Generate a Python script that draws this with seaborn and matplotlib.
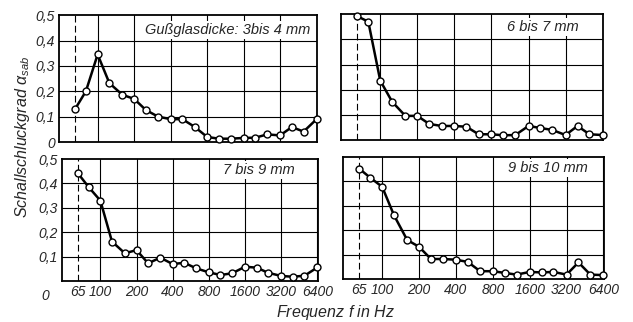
import matplotlib
matplotlib.use("Agg")
import matplotlib.pyplot as plt
import seaborn as sns
import pandas as pd

# ---- data ----
freqs = [65, 80, 100, 125, 160, 200, 250, 315, 400, 500, 630, 800, 1000,
         1250, 1600, 2000, 2500, 3200, 4000, 5000, 6400]
alpha_3_4 = [0.129, 0.200, 0.345, 0.232, 0.186, 0.170, 0.126, 0.100, 0.090, 0.090,
             0.060, 0.020, 0.013, 0.013, 0.016, 0.017, 0.030, 0.026, 0.059, 0.041, 0.090]
alpha_6_7 = [0.492, 0.470, 0.236, 0.152, 0.096, 0.096, 0.064, 0.056, 0.056, 0.053,
             0.023, 0.023, 0.019, 0.020, 0.056, 0.048, 0.040, 0.020, 0.056, 0.023, 0.020]
alpha_7_9 = [0.442, 0.385, 0.330, 0.162, 0.114, 0.127, 0.073, 0.096, 0.070, 0.075,
             0.052, 0.036, 0.025, 0.032, 0.059, 0.055, 0.034, 0.021, 0.018, 0.022, 0.056]
alpha_9_10 = [0.452, 0.415, 0.378, 0.261, 0.160, 0.132, 0.082, 0.082, 0.079, 0.070,
              0.032, 0.032, 0.025, 0.018, 0.029, 0.027, 0.029, 0.018, 0.068, 0.018, 0.016]
panel_titles = ["Gußglasdicke: 3bis 4 mm", "6 bis 7 mm", "7 bis 9 mm", "9 bis 10 mm"]
xtick_vals = [65, 100, 200, 400, 800, 1600, 3200, 6400]
xtick_labels = ["65", "100", "200", "400", "800", "1600", "3200", "6400"]
ytick_vals = [0.1, 0.2, 0.3, 0.4, 0.5]
ytick_labels = ["0,1", "0,2", "0,3", "0,4", "0,5"]
ylabel = r"Schallschluckgrad $\alpha_{sab}$"
xlabel = "Frequenz $f$ in Hz"

sns.set_style("white")
FONT = ["Liberation Sans", "DejaVu Sans"]
plt.rcParams["font.family"] = FONT
plt.rcParams["font.style"] = "italic"
plt.rcParams["mathtext.fontset"] = "custom"
plt.rcParams["mathtext.it"] = "Liberation Sans:italic"
plt.rcParams["mathtext.rm"] = "Liberation Sans:italic"

fig = plt.figure(figsize=(6.33, 3.22), dpi=100)
rects = [
    [0.0932, 0.559, 0.4076, 0.394],
    [0.5387, 0.565, 0.4140, 0.391],
    [0.0980, 0.127, 0.4040, 0.379],
    [0.5420, 0.1335, 0.4120, 0.379],
]
series = [alpha_3_4, alpha_6_7, alpha_7_9, alpha_9_10]
title_pos = [(0.973, 0.88), (0.905, 0.897), (0.91, 0.91), (0.94, 0.91)]

for i, (rect, vals) in enumerate(zip(rects, series)):
    ax = fig.add_axes(rect)
    ax.set_xscale("log")
    ax.set_xlim(48, 6450)
    ax.set_ylim(0, 0.5)
    for g in xtick_vals[1:]:
        ax.axvline(g, color="black", lw=0.8, zorder=1)
    for g in ytick_vals[:-1]:
        ax.axhline(g, color="black", lw=0.8, zorder=1)
    ax.axvline(65, color="black", lw=0.8, ls=(0, (6, 3)), zorder=1)
    df = pd.DataFrame({"f": freqs, "a": vals})
    sns.lineplot(data=df, x="f", y="a", ax=ax, color="black", lw=1.8,
                 marker="o", markersize=5, markerfacecolor="white",
                 markeredgecolor="black", markeredgewidth=1.0, zorder=5,
                 clip_on=False)
    tx, ty = title_pos[i]
    ax.text(tx, ty, panel_titles[i], transform=ax.transAxes, ha="right",
            va="center", fontsize=10.5, style="italic",
            bbox=dict(facecolor="white", edgecolor="none", pad=1.5), zorder=3)
    for sp in ax.spines.values():
        sp.set_visible(True)
        sp.set_color("black")
        sp.set_linewidth(1.3)
    ax.set_xlabel("")
    ax.set_ylabel("")
    ax.minorticks_off()
    ax.tick_params(length=0, labelsize=10, pad=3)
    ax.set_xticks(xtick_vals)
    if i >= 2:
        ax.set_xticklabels(xtick_labels, style="italic")
    else:
        ax.set_xticklabels([])
    if i % 2 == 0:
        if i == 0:
            ax.set_yticks([0] + ytick_vals)
            ax.set_yticklabels(["0"] + ytick_labels, style="italic")
        else:
            ax.set_yticks(ytick_vals)
            ax.set_yticklabels(ytick_labels, style="italic")
            ax.text(-0.05, -0.12, "0", transform=ax.transAxes, ha="right",
                    va="center", fontsize=10, style="italic")
    else:
        ax.set_yticks(ytick_vals)
        ax.set_yticklabels([])

fig.text(0.035, 0.575, ylabel, rotation=90, ha="center", va="center",
         fontsize=11.5, style="italic")
fig.text(0.53, 0.031, xlabel, ha="center", va="center", fontsize=11.5,
         style="italic")

fig.savefig("out.png", dpi=100)
